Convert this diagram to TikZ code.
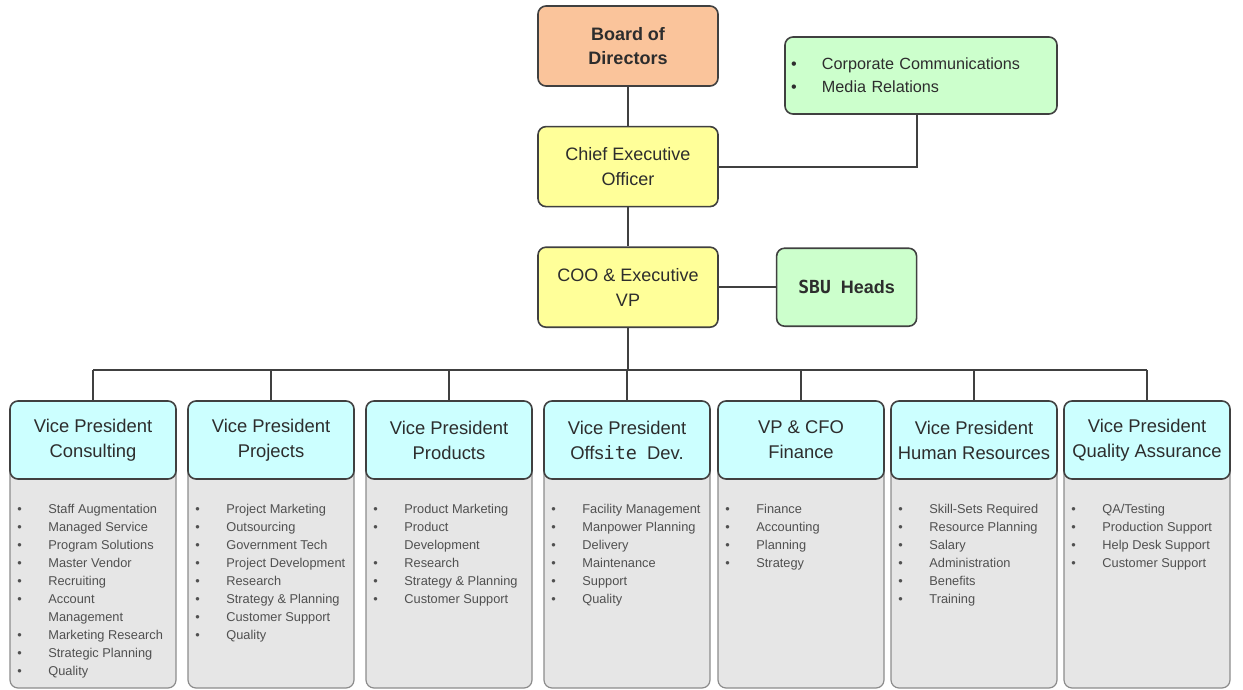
\documentclass[tikz,border=0pt]{standalone}
\usepackage{fontspec}
\setmainfont{Liberation Sans}
\newfontfamily\monofont{DejaVu Sans Mono}
\usetikzlibrary{positioning}

\definecolor{linegray}{RGB}{64,64,64}
\definecolor{txtgray}{RGB}{45,45,45}
\definecolor{itemgray}{RGB}{80,80,80}
\definecolor{boardorange}{RGB}{250,196,155}
\definecolor{execyellow}{RGB}{255,255,153}
\definecolor{staffgreen}{RGB}{204,255,204}
\definecolor{vpcyan}{RGB}{204,255,255}
\definecolor{bodygray}{RGB}{230,230,230}
\definecolor{bodyline}{RGB}{140,140,140}

\def\vpBulW{15.5pt}
\newcommand\vpbul{\makebox[\vpBulW][l]{\textbullet}}
\newcommand\vpcont{\hspace*{\vpBulW}}

\def\itemsCons{\vpbul Staff Augmentation\\\vpbul Managed Service\\\vpbul Program Solutions\\
  \vpbul Master Vendor\\\vpbul Recruiting\\\vpbul Account\\\vpcont Management\\
  \vpbul Marketing Research\\\vpbul Strategic Planning\\\vpbul Quality}
\def\itemsProj{\vpbul Project Marketing\\\vpbul Outsourcing\\\vpbul Government Tech\\
  \vpbul Project Development\\\vpbul Research\\\vpbul Strategy \& Planning\\
  \vpbul Customer Support\\\vpbul Quality}
\def\itemsProd{\vpbul Product Marketing\\\vpbul Product\\\vpcont Development\\
  \vpbul Research\\\vpbul Strategy \& Planning\\\vpbul Customer Support}
\def\itemsOffs{\vpbul Facility Management\\\vpbul Manpower Planning\\\vpbul Delivery\\
  \vpbul Maintenance\\\vpbul Support\\\vpbul Quality}
\def\itemsFin{\vpbul Finance\\\vpbul Accounting\\\vpbul Planning\\\vpbul Strategy}
\def\itemsHr{\vpbul Skill-Sets Required\\\vpbul Resource Planning\\\vpbul Salary\\
  \vpbul Administration\\\vpbul Benefits\\\vpbul Training}
\def\itemsQa{\vpbul QA/Testing\\\vpbul Production Support\\\vpbul Help Desk Support\\
  \vpbul Customer Support}

\begin{document}
\begin{tikzpicture}[x=0.5pt, y=-0.5pt,
    every node/.style={text=txtgray},
    link/.style={draw=linegray, line width=1pt},
    topbox/.style={draw=linegray, line width=0.8pt, rounded corners=4pt,
      minimum width=90pt, minimum height=40pt, align=center,
      font=\fontsize{9}{12.5}\selectfont},
    vphead/.style={draw=linegray, line width=0.8pt, fill=vpcyan, rounded corners=4pt,
      minimum width=83pt, minimum height=39pt, align=center,
      font=\fontsize{9.2}{12.5}\selectfont},
    vpbody/.style={draw=bodyline, line width=0.6pt, fill=bodygray, rounded corners=4pt},
    vplist/.style={anchor=north west, inner sep=0pt, align=left, text=itemgray,
      font=\fontsize{6.4}{9}\selectfont}]
  \useasboundingbox (0,0) rectangle (1243,690);

  %% top of the chart
  \node [topbox, fill=boardorange, font=\bfseries\fontsize{9}{12}\selectfont]
    (board) at (628,46) {Board of\\Directors};
  \node [topbox, fill=execyellow, below=19.5pt of board] (ceo) {Chief Executive\\Officer};
  \node [topbox, fill=execyellow, below=19.5pt of ceo] (coo) {COO \& Executive\\VP};
  \node [draw=linegray, line width=0.8pt, rounded corners=4pt, fill=staffgreen,
    text width=130pt, inner xsep=3pt, minimum height=38.5pt, align=left,
    font=\fontsize{8.1}{11.5}\selectfont]
    (corp) at (921,75.5) {\makebox[15.5pt][l]{\textbullet}Corporate Communications\\
    \makebox[15.5pt][l]{\textbullet}Media Relations};
  \node [topbox, fill=staffgreen, minimum width=70pt, minimum height=39pt,
    right=28.5pt of coo, font=\bfseries\fontsize{9}{12.5}\selectfont]
    (sbu) {{\monofont SBU}\ \ Heads};

  \draw [link] (board) -- (ceo);
  \draw [link] (ceo) -- (coo);
  \draw [link] (ceo.east) -| ([xshift=-2pt]corp.south);
  \draw [link] (coo) -- (sbu);

  %% vice presidents
  \coordinate (bus) at (628,370);
  \draw [link] (coo.south) -- (bus);
  \foreach \n/\cx/\ttl in {
      Cons/93/{Vice President\\Consulting},
      Proj/271/{Vice President\\Projects},
      Prod/449/{Vice President\\Products},
      Offs/627/{Vice President\\Offs{\monofont ite}\ \ Dev.},
      Fin/801/{VP \& CFO\\Finance},
      Hr/974/{Vice President\\Human Resources},
      Qa/1147/{Vice President\\Quality Assurance}} {
    \draw [vpbody] (\cx-83,460) rectangle (\cx+83,688);
    \node [vphead] (vp\n) at (\cx,440) {\ttl};
    \node [vplist] (list\n) at (\cx-76,504) {\csname items\n\endcsname};
    \draw [link] (vp\n.north) -- (vp\n.north |- bus);
  }
  \draw [link] (vpCons.north |- bus) -- (vpQa.north |- bus);
\end{tikzpicture}
\end{document}
